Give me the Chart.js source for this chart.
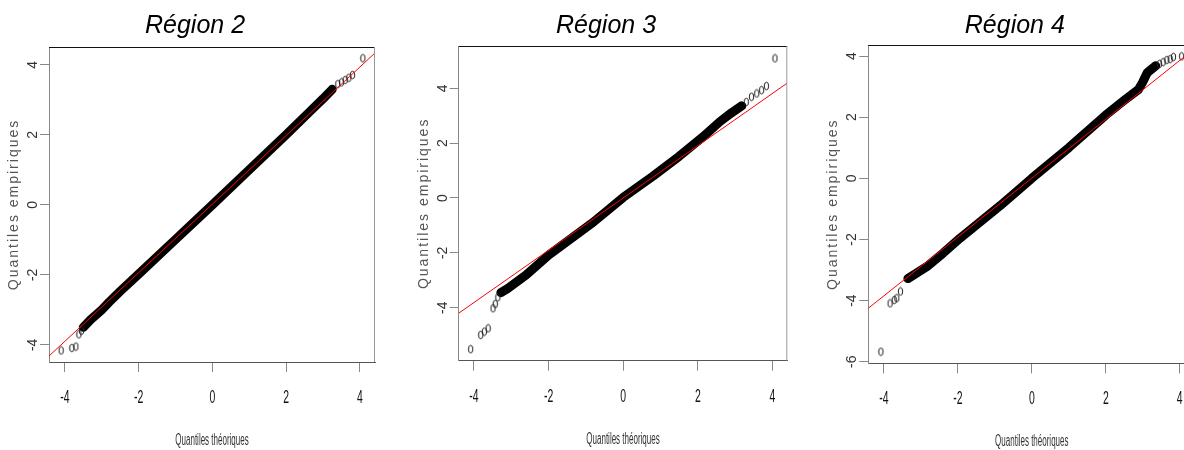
<!DOCTYPE html>
<html lang="fr">
<head>
<meta charset="utf-8">
<title>Q-Q plots par région</title>
<script src="https://cdn.jsdelivr.net/npm/chart.js@4.4.1/dist/chart.umd.min.js"></script>
<style>
  html, body { margin: 0; padding: 0; background: #fff; }
  body { position: relative; width: 1184px; height: 450px; overflow: hidden; }
  canvas { position: absolute; top: 0; }
</style>
</head>
<body>
<canvas id="c2"></canvas>
<canvas id="c3"></canvas>
<canvas id="c4"></canvas>
<script>
"use strict";

// textes communs
const X_TICKS = [-4, -2, 0, 2, 4];
const X_LABEL = "Quantiles théoriques";
const Y_LABEL = "Quantiles empiriques";

// ---- Région 2 ----
const R2_TITLE = "Région 2";
const R2_X_RANGE = [-4.43, 4.41];
const R2_Y_RANGE = [-4.49, 4.51];
const R2_Y_TICKS = [-4, -2, 0, 2, 4];
// bande dense des points
const R2_BAND = [
  [-3.5, -3.5], [-3.3, -3.28], [-3.0, -3.0], [-2.8, -2.78], [-2.5, -2.47],
  [-2.0, -1.98], [-1.0, -0.99], [0, 0], [1.0, 1.0], [2.0, 2.0],
  [2.6, 2.62], [3.0, 3.03], [3.25, 3.3],
];
// points isolés des queues
const R2_OUT = [
  [-4.1, -4.16], [-3.81, -4.09], [-3.7, -4.05], [-3.62, -3.7], [-3.55, -3.6],
  [3.4, 3.45], [3.5, 3.5], [3.6, 3.57], [3.7, 3.63], [3.8, 3.71], [4.08, 4.19],
];
// droite de Henry (qqline)
const R2_LINE = [[-4.43, -4.32], [4.41, 4.34]];

// ---- Région 3 ----
const R3_TITLE = "Région 3";
const R3_X_RANGE = [-4.41, 4.40];
const R3_Y_RANGE = [-5.93, 5.54];
const R3_Y_TICKS = [-4, -2, 0, 2, 4];
const R3_BAND = [
  [-3.28, -3.45], [-3.1, -3.3], [-2.6, -2.8], [-2.0, -2.08], [-1.5, -1.58],
  [-0.8, -0.88], [0, 0.02], [0.8, 0.8], [1.5, 1.52], [2.14, 2.23],
  [2.59, 2.78], [2.9, 3.1], [3.18, 3.36],
];
const R3_OUT = [
  [-4.09, -5.51], [-3.82, -4.99], [-3.72, -4.87], [-3.62, -4.75],
  [-3.49, -4.02], [-3.43, -3.86], [-3.36, -3.62],
  [3.3, 3.5], [3.44, 3.69], [3.58, 3.81], [3.71, 3.93], [3.84, 4.08], [4.07, 5.09],
];
const R3_LINE = [[-4.41, -4.2], [4.40, 4.19]];

// ---- Région 4 ----
const R4_TITLE = "Région 4";
const R4_X_RANGE = [-4.42, 4.42];
const R4_Y_RANGE = [-6.05, 4.36];
const R4_Y_TICKS = [-6, -4, -2, 0, 2, 4];
const R4_BAND = [
  [-3.35, -3.28], [-2.84, -2.89], [-2.4, -2.45], [-1.94, -1.96], [-0.86, -0.9],
  [0, 0], [1.0, 1.0], [2.0, 2.07], [2.5, 2.55], [2.88, 2.9],
  [3.0, 3.15], [3.12, 3.45], [3.35, 3.68],
];
const R4_OUT = [
  [-4.08, -5.67], [-3.83, -4.09], [-3.72, -3.98], [-3.65, -3.92], [-3.55, -3.7],
  [3.45, 3.74], [3.55, 3.8], [3.65, 3.87], [3.74, 3.9], [3.83, 3.97], [4.05, 3.99],
];
const R4_LINE = [[-4.42, -4.25], [4.42, 4.26]];

// placement des panneaux (coordonnées de la page)
const PANELS = [
  { id: "c2", left: 0, width: 395, area: { left: 49, right: 375, top: 47, bottom: 362 },
    title: R2_TITLE, xr: R2_X_RANGE, yr: R2_Y_RANGE, yTicks: R2_Y_TICKS,
    band: R2_BAND, out: R2_OUT, line: R2_LINE },
  { id: "c3", left: 400, width: 410, area: { left: 458.7, right: 787.3, top: 46, bottom: 360.7 },
    title: R3_TITLE, xr: R3_X_RANGE, yr: R3_Y_RANGE, yTicks: R3_Y_TICKS,
    band: R3_BAND, out: R3_OUT, line: R3_LINE },
  { id: "c4", left: 800, width: 420, area: { left: 868.3, right: 1195.3, top: 45, bottom: 363.3 },
    title: R4_TITLE, xr: R4_X_RANGE, yr: R4_Y_RANGE, yTicks: R4_Y_TICKS,
    band: R4_BAND, out: R4_OUT, line: R4_LINE },
];

const FONT = '"Liberation Sans", Arial, sans-serif';
const H = 450;

// petit cercle écrasé comme les "o" de R sur l'image
const OVAL = (() => {
  const c = document.createElement("canvas");
  c.width = 7;
  c.height = 10;
  const g = c.getContext("2d");
  g.strokeStyle = "#222";
  g.lineWidth = 1;
  g.beginPath();
  g.ellipse(3.5, 5, 2.2, 3.8, 0, 0, Math.PI * 2);
  g.stroke();
  return c;
})();

PANELS.forEach(makeChart);

function toXY(arr) {
  return arr.map(([x, y]) => ({ x, y }));
}

function makeChart(p) {
  const canvas = document.getElementById(p.id);
  canvas.width = p.width;
  canvas.height = H;
  canvas.style.left = p.left + "px";
  const a = p.area;

  // titre, étiquettes et cadre dessinés à la main (texte condensé, rotation)
  const decor = {
    id: "decor",
    afterDraw(chart) {
      const ctx = chart.ctx;
      const ca = chart.chartArea;
      const xs = chart.scales.x;
      const ys = chart.scales.y;
      const cx = (ca.left + ca.right) / 2;
      ctx.save();

      // cadre haut / droite
      ctx.lineWidth = 1;
      ctx.strokeStyle = "#111";
      ctx.beginPath();
      ctx.moveTo(ca.left, ca.top + 0.5);
      ctx.lineTo(ca.right, ca.top + 0.5);
      ctx.stroke();
      ctx.strokeStyle = "#999";
      ctx.beginPath();
      ctx.moveTo(ca.right - 0.5, ca.top);
      ctx.lineTo(ca.right - 0.5, ca.bottom);
      ctx.stroke();

      // titre
      ctx.fillStyle = "#000";
      ctx.font = "italic 25px " + FONT;
      ctx.textAlign = "center";
      ctx.textBaseline = "alphabetic";
      ctx.fillText(p.title, cx - 17, 33);

      // graduations x (police condensée)
      ctx.fillStyle = "#111";
      ctx.font = "19px " + FONT;
      X_TICKS.forEach((v) => {
        ctx.save();
        ctx.translate(xs.getPixelForValue(v), ca.bottom + 41);
        ctx.scale(0.55, 1);
        ctx.fillText(String(v), 0, 0);
        ctx.restore();
      });

      // titre de l'axe x
      ctx.fillStyle = "#333";
      ctx.font = "16px " + FONT;
      ctx.save();
      ctx.translate(cx, ca.bottom + 83);
      ctx.scale(0.5, 1);
      ctx.fillText(X_LABEL, 0, 0);
      ctx.restore();

      // graduations y (tournées)
      ctx.fillStyle = "#333";
      ctx.font = "14px " + FONT;
      ctx.textBaseline = "middle";
      p.yTicks.forEach((v) => {
        ctx.save();
        ctx.translate(ca.left - 16, ys.getPixelForValue(v));
        ctx.rotate(-Math.PI / 2);
        ctx.fillText(String(v), 0, 0);
        ctx.restore();
      });

      // titre de l'axe y
      ctx.fillStyle = "#555";
      ctx.font = "14px " + FONT;
      ctx.save();
      ctx.translate(ca.left - 35, (ca.top + ca.bottom) / 2);
      ctx.rotate(-Math.PI / 2);
      ctx.letterSpacing = "2px";
      ctx.fillText(Y_LABEL, 0, 0);
      ctx.restore();

      ctx.restore();
    },
  };

  new Chart(canvas, {
    type: "scatter",
    data: {
      datasets: [
        {
          data: toXY(p.line),
          showLine: true,
          borderColor: "#ff0000",
          borderWidth: 1,
          pointRadius: 0,
        },
        {
          data: toXY(p.out),
          pointStyle: OVAL,
          pointRadius: 4,
        },
        {
          data: toXY(p.band),
          showLine: true,
          borderColor: "#000",
          borderWidth: 9,
          borderCapStyle: "round",
          borderJoinStyle: "round",
          pointRadius: 0,
        },
      ],
    },
    options: {
      responsive: false,
      animation: false,
      events: [],
      layout: {
        padding: { left: 0, top: a.top, right: p.left + p.width - a.right, bottom: 0 },
      },
      plugins: {
        legend: { display: false },
        tooltip: { enabled: false },
      },
      scales: {
        x: {
          type: "linear",
          min: p.xr[0],
          max: p.xr[1],
          afterBuildTicks: (s) => {
            s.ticks = X_TICKS.map((v) => ({ value: v }));
          },
          afterFit: (s) => {
            s.height = H - a.bottom;
          },
          ticks: { display: false },
          grid: { drawOnChartArea: false, drawTicks: true, tickLength: 10, color: "#888" },
          border: { display: true, color: "#555", width: 1 },
        },
        y: {
          type: "linear",
          min: p.yr[0],
          max: p.yr[1],
          afterBuildTicks: (s) => {
            s.ticks = p.yTicks.map((v) => ({ value: v }));
          },
          afterFit: (s) => {
            s.width = a.left - p.left;
          },
          ticks: { display: false },
          grid: { drawOnChartArea: false, drawTicks: true, tickLength: 9, color: "#888" },
          border: { display: true, color: "#888", width: 1 },
        },
      },
    },
    plugins: [decor],
  });
}
</script>
</body>
</html>
